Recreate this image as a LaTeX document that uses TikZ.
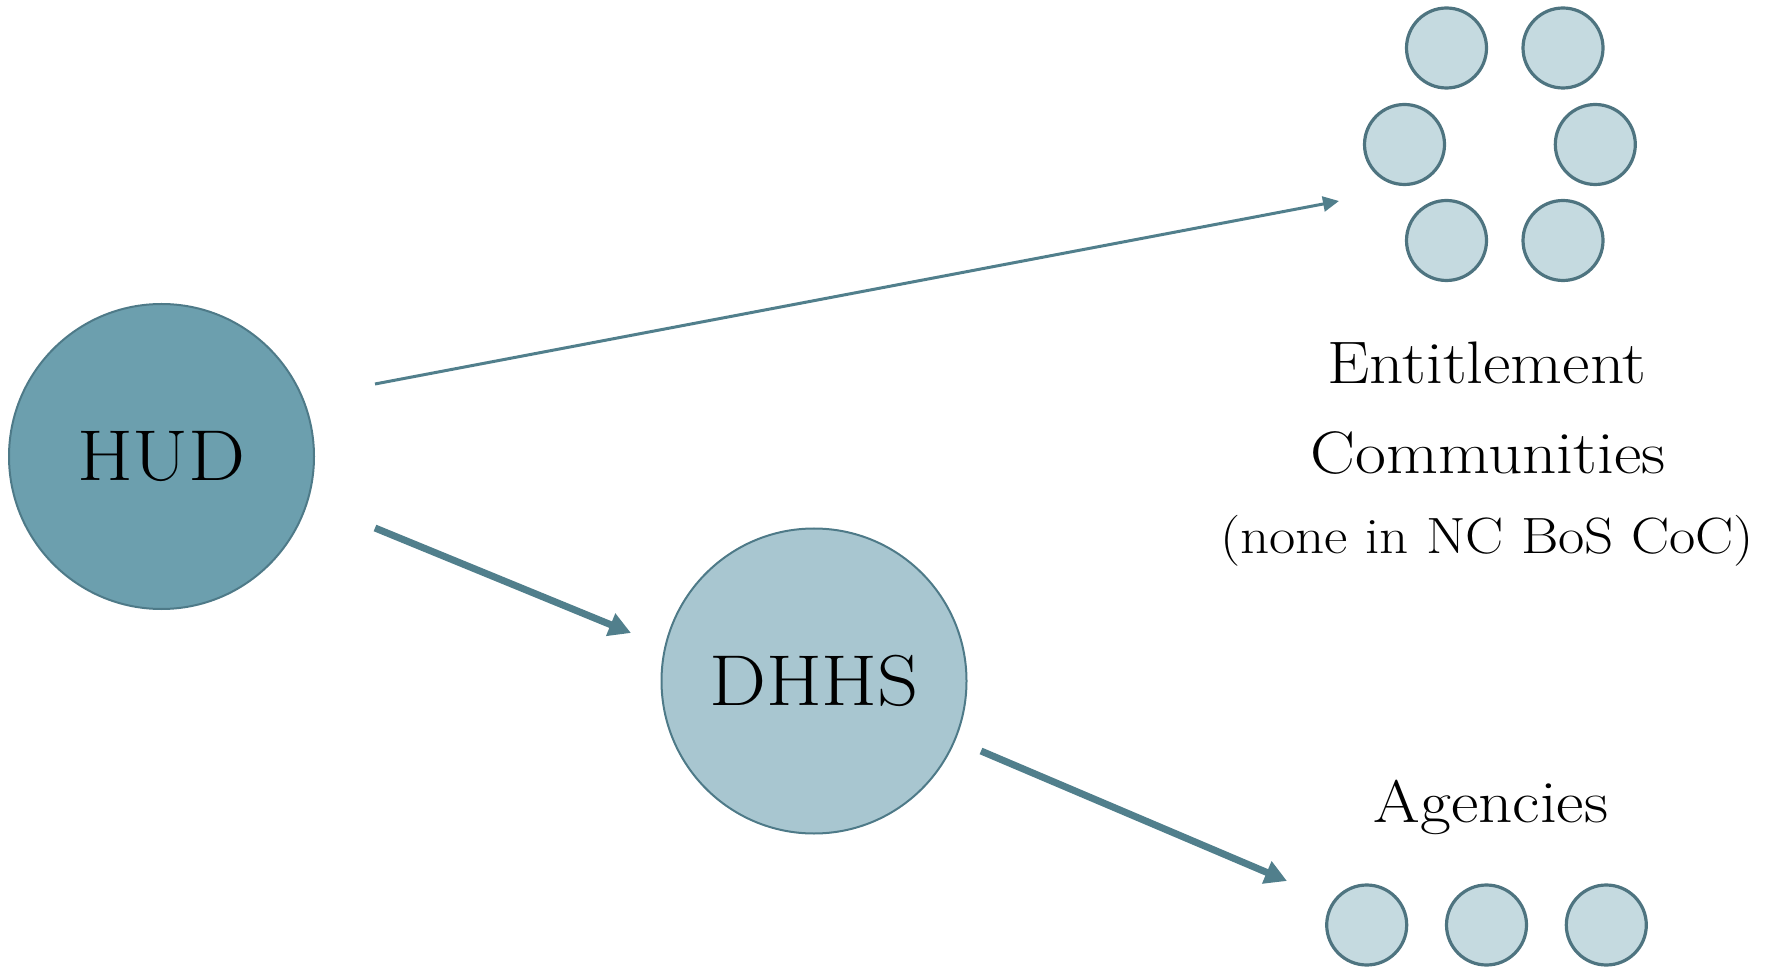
\documentclass[tikz,border=0pt]{standalone}
\usepackage{fontspec}
\setmainfont{Latin Modern Roman}[FakeStretch=1.12]
\usetikzlibrary{arrows.meta}
\definecolor{hudfill}{HTML}{6C9FAE}
\definecolor{hudline}{HTML}{4E7A88}
\definecolor{dhhsfill}{HTML}{A8C6D0}
\definecolor{smallfill}{HTML}{C5DAE0}
\definecolor{smallline}{HTML}{4E7480}
\definecolor{arrowcol}{HTML}{517F8C}
\begin{document}
\begin{tikzpicture}[x=0.5pt,y=-0.5pt,
  big/.style={circle,draw=hudline,line width=1pt,minimum size=152.5pt,inner sep=0pt,font=\fontsize{36}{40}\selectfont},
  small/.style={circle,draw=smallline,fill=smallfill,line width=1.6pt,minimum size=40pt,inner sep=0pt},
  thinarrow/.style={draw=arrowcol,line width=1.5pt,-{Triangle[length=8pt,width=7.5pt]}},
  thickarrow/.style={draw=arrowcol,line width=3.5pt,-{Triangle[length=11pt,width=11.5pt]}},
  lbl/.style={anchor=base,inner sep=0pt,text=black},
  bigtext/.style={font=\fontsize{30}{36}\selectfont},
  smalltext/.style={font=\fontsize{25.5}{30}\selectfont}]
\useasboundingbox (0,0) rectangle (1771,967);

\node[big,fill=hudfill] (hud) at (161.5,456.5) {HUD};
\node[big,fill=dhhsfill] (dhhs) at (814,681) {DHHS};

\node[small] (e1) at (1446.5,48) {};
\node[small] (e2) at (1563,48) {};
\node[small] (e3) at (1404.5,144.5) {};
\node[small] (e4) at (1595.3,144.5) {};
\node[small] (e5) at (1446.5,240.5) {};
\node[small] (e6) at (1563,240.5) {};

\node[small] (a1) at (1366.7,925) {};
\node[small] (a2) at (1486.5,925) {};
\node[small] (a3) at (1606.3,925) {};

\node[lbl,bigtext] (ent) at (1487,384) {Entitlement};
\node[lbl,bigtext] (comm) at (1488,474) {Communities};
\node[lbl,smalltext] (none) at (1487,553) {(none in NC BoS CoC)};
\node[lbl,bigtext] (agen) at (1491,822) {Agencies};

\coordinate (s1) at (375,384);
\coordinate (t1) at (1339,201);
\coordinate (s2) at (375,528);
\coordinate (t2) at (631,633);
\coordinate (s3) at (981,751);
\coordinate (t3) at (1287,881);

\draw[thinarrow] (s1) -- (t1);
\draw[thickarrow] (s2) -- (t2);
\draw[thickarrow] (s3) -- (t3);
\end{tikzpicture}
\end{document}
